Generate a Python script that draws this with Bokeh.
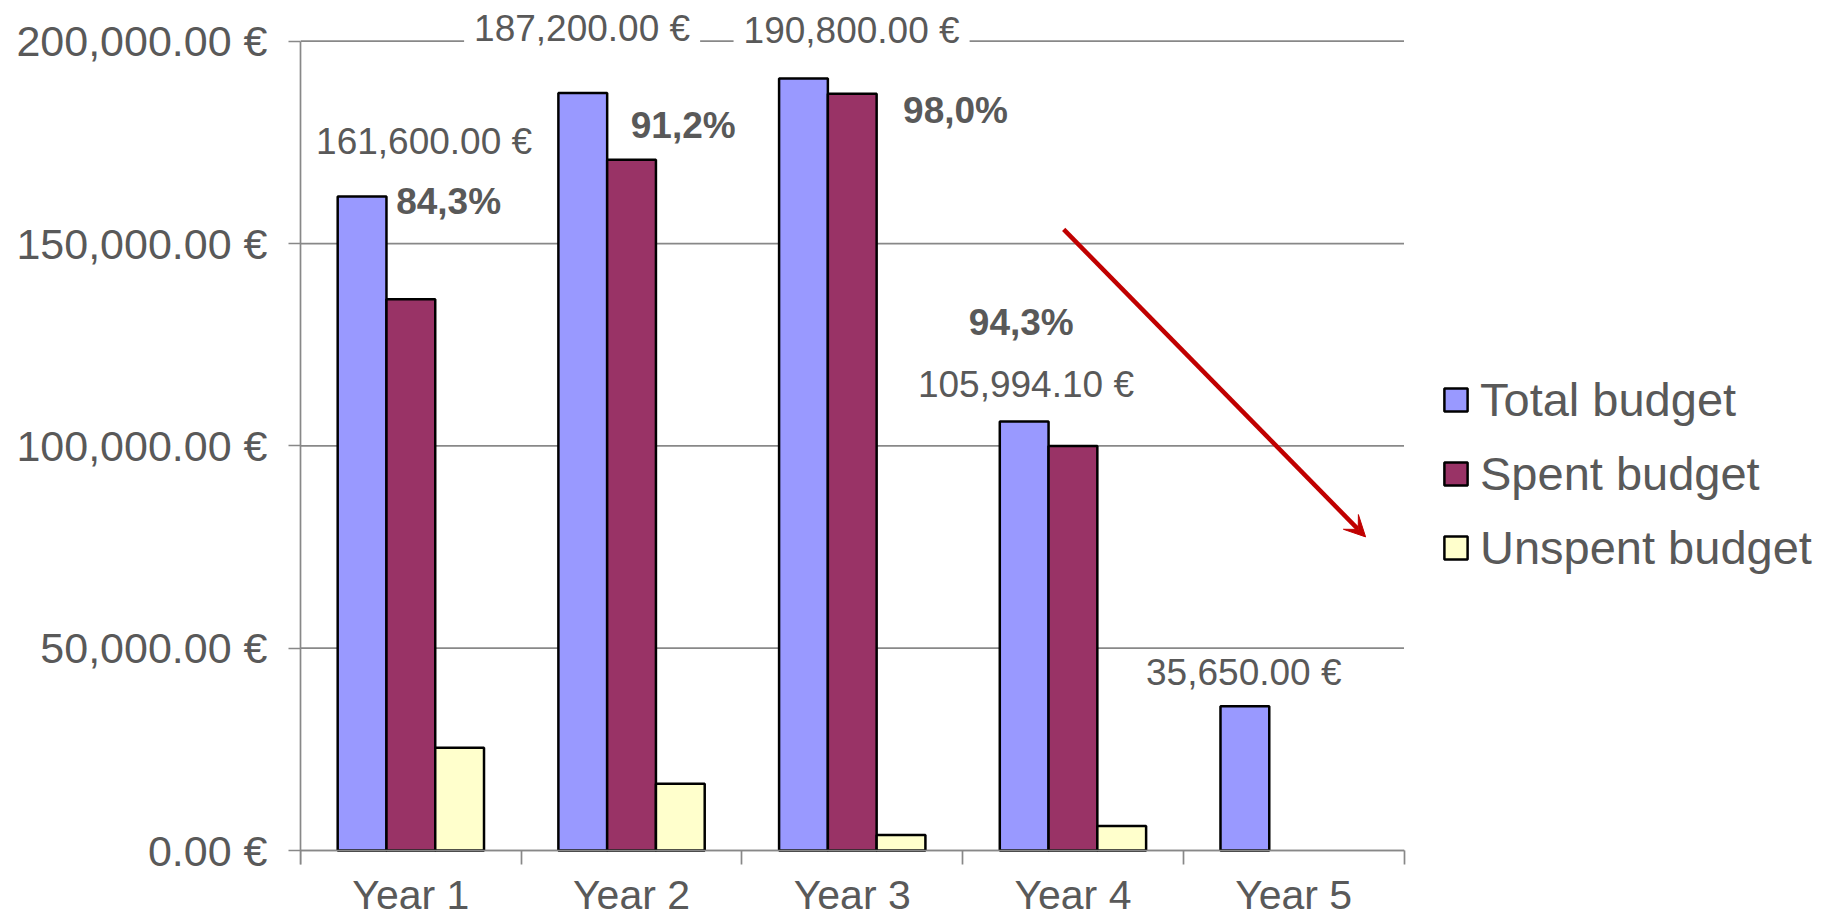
from bokeh.plotting import figure
from bokeh.models import (ColumnDataSource, Range1d, FixedTicker, Arrow, VeeHead, LinearAxis)
from bokeh.transform import dodge
from bokeh.core.properties import value
from bokeh.embed import file_html
from bokeh.resources import INLINE

# ---------------- data ----------------
years = ["Year 1", "Year 2", "Year 3", "Year 4", "Year 5"]
total_budget = [161600.00, 187200.00, 190800.00, 105994.10, 35650.00]
spent_years = ["Year 1", "Year 2", "Year 3", "Year 4"]
spent_budget = [136229.0, 170726.0, 186984.0, 99952.0]
unspent_budget = [25371.0, 16474.0, 3816.0, 6042.0]
y_ticks = [0, 50000, 100000, 150000, 200000]
y_tick_labels = ["0.00 €", "50,000.00 €", "100,000.00 €", "150,000.00 €", "200,000.00 €"]

# ---------------- layout ----------------
W, H = 1823, 917
FL = 300                 # frame left (px)
CAT_PX = 220.7           # width of one category (px)
Y0_PX, Y200_PX, EXT = 850.0, 40.7, 14.0
upp = 200000.0 / (Y0_PX - Y200_PX)
y_end = 200000.0 + Y200_PX * upp
y_start = -(H - Y0_PX) * upp
tick_low = -EXT * upp
x_end = (W - FL) / CAT_PX
n = len(years)

BW = 0.221
GRAY = "#888888"
TXT = "#595959"
FONT = "Liberation Sans"

p = figure(width=W, height=H, x_range=Range1d(0, x_end), y_range=Range1d(y_start, y_end),
           output_backend="svg", toolbar_location=None, x_axis_location=None,
           min_border_left=FL, min_border_right=0, min_border_top=0, min_border_bottom=0)
p.outline_line_color = None
p.background_fill_color = "white"
p.border_fill_color = "white"
p.xgrid.grid_line_color = None
p.ygrid.grid_line_color = None

# horizontal gridlines, limited to the category area
p.segment(x0=[0] * len(y_ticks), x1=[n] * len(y_ticks), y0=y_ticks, y1=y_ticks,
          line_color=GRAY, line_width=1.7)

# y axis
p.yaxis.ticker = FixedTicker(ticks=y_ticks)
p.yaxis.bounds = (tick_low, max(y_ticks))
p.yaxis.major_label_overrides = dict(zip(y_ticks, y_tick_labels))
p.yaxis.axis_line_color = GRAY
p.yaxis.axis_line_width = 1.7
p.yaxis.major_tick_out = 12
p.yaxis.major_tick_in = 0
p.yaxis.major_tick_line_color = GRAY
p.yaxis.major_tick_line_width = 1.7
p.yaxis.minor_tick_line_color = None
p.yaxis.major_label_standoff = 21
p.yaxis.major_label_text_font = FONT
p.yaxis.major_label_text_font_size = "43px"
p.yaxis.major_label_text_color = TXT

# x axis: boundary ticks
tick_axis = LinearAxis(fixed_location=0, ticker=FixedTicker(ticks=list(range(n + 1))),
                       bounds=(0, n), axis_line_color=GRAY, axis_line_width=1.7,
                       major_tick_out=int(EXT), major_tick_in=0, major_tick_line_color=GRAY,
                       major_tick_line_width=1.7, minor_tick_line_color=None,
                       major_label_text_font_size="0px",
                       major_label_overrides={i: "" for i in range(n + 1)})
p.add_layout(tick_axis, "below")

# x axis: category labels
centers = [i + 0.5 for i in range(n)]
label_axis = LinearAxis(fixed_location=0, ticker=FixedTicker(ticks=centers),
                        axis_line_color=None, major_tick_line_color=None,
                        major_tick_out=0, major_tick_in=0, minor_tick_line_color=None,
                        major_label_standoff=21, major_label_text_font=FONT,
                        major_label_text_font_size="41px", major_label_text_color=TXT,
                        major_label_overrides=dict(zip(centers, years)))
p.add_layout(label_axis, "below")

# bars
idx = {y: i + 0.5 for i, y in enumerate(years)}
src_t = ColumnDataSource(dict(xc=[idx[y] for y in years], v=total_budget))
src_s = ColumnDataSource(dict(xc=[idx[y] for y in spent_years], v=spent_budget))
src_u = ColumnDataSource(dict(xc=[idx[y] for y in spent_years], v=unspent_budget))
p.vbar(x=dodge("xc", -BW), top="v", width=BW, source=src_t,
       fill_color="#9999FF", line_color="black", line_width=2.5, legend_label="Total budget")
p.vbar(x=dodge("xc", 0), top="v", width=BW, source=src_s,
       fill_color="#993366", line_color="black", line_width=2.5, legend_label="Spent budget")
p.vbar(x=dodge("xc", BW), top="v", width=BW, source=src_u,
       fill_color="#FFFFCC", line_color="black", line_width=2.5, legend_label="Unspent budget")

# value labels (total budget)
val_text = [f"{v:,.2f} €" for v in total_budget]
val_dx = [0.06, -0.224, -0.003, -0.213, -0.226]
val_y = [175300, 203150, 202580, 115060, 43900]
val_bg = [0, 1, 1, 0, 0]
val_x = [i + 0.5 + d for i, d in enumerate(val_dx)]
p.text(x=val_x, y=val_y, text=val_text, text_font=value(FONT), text_font_size="37px",
       text_color=TXT, text_align="center", text_baseline="middle",
       background_fill_color="white", background_fill_alpha=val_bg, padding=10)

# percent labels
pct_text = [f"{s / t * 100:.1f}".replace(".", ",") + "%" for s, t in zip(spent_budget, total_budget)]
pct_dx = [0.171, 0.234, 0.468, -0.234]
pct_y = [160400, 179050, 182780, 130560]
pct_x = [i + 0.5 + d for i, d in enumerate(pct_dx)]
p.text(x=pct_x, y=pct_y, text=pct_text, text_font=value(FONT), text_font_size="37px",
       text_font_style="bold", text_color=TXT, text_align="center", text_baseline="middle")

# trend arrow
p.add_layout(Arrow(end=VeeHead(size=21, fill_color="#C00000", line_color="#C00000", line_width=1),
                   x_start=3.458, y_start=153500, x_end=4.826, y_end=77500,
                   line_color="#C00000", line_width=4.5))

# legend
lg = p.legend[0]
lg.location = (1141, 342)
lg.label_text_font = FONT
lg.label_text_font_size = "47px"
lg.label_text_color = TXT
lg.glyph_width = 29
lg.glyph_height = 29
lg.label_height = 53
lg.spacing = 19
lg.padding = 0
lg.margin = 0
lg.label_standoff = 10
lg.border_line_color = None
lg.background_fill_alpha = 0

open("out.html", "w").write(file_html(p, INLINE))
